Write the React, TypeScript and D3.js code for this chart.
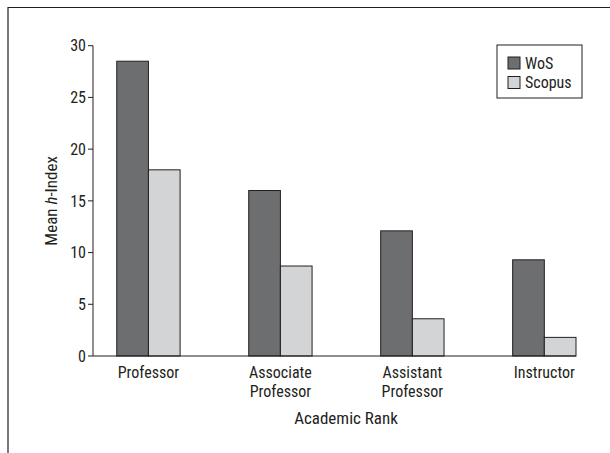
import React from "react";
import * as d3 from "d3";

const categories = ["Professor", "Associate Professor", "Assistant Professor", "Instructor"];
const categoryLines = [["Professor"], ["Associate", "Professor"], ["Assistant", "Professor"], ["Instructor"]];
const seriesNames = ["WoS", "Scopus"];
const wosValues = [28.5, 16.0, 12.1, 9.3];
const scopusValues = [18.0, 8.7, 3.6, 1.8];
const yTicks = [0, 5, 10, 15, 20, 25, 30];

const colors = ["#6d6e70", "#d3d4d6"];
const stroke = "#231f20";
const font = "'Liberation Sans Narrow', 'Roboto Condensed', 'Liberation Sans', Arial, sans-serif";

export default function App() {
  const W = 610, H = 453;
  const x0 = 93, x1 = 576, yTop = 45.7, yBot = 356;
  const x = d3.scaleBand<string>().domain(categories).range([x0, x1]).paddingInner(0.52).paddingOuter(0.09).align(1);
  const inner = d3.scaleBand<string>().domain(seriesNames).range([0, x.bandwidth()]);
  const y = d3.scaleLinear().domain([0, 30]).range([yBot, yTop]);
  const series = [wosValues, scopusValues];

  return (
    <svg width={W} height={H} style={{ position: "absolute", left: 0, top: 0 }} fontFamily={font}>
      <rect x={0} y={0} width={W} height={H} fill="#fff" />
      <path d={`M8,${H + 5} V7.5 H${W + 5}`} fill="none" stroke="#231f20" strokeWidth={1.2} />
      {categories.map((c, i) =>
        seriesNames.map((s, k) => (
          <rect
            key={c + s}
            x={(x(c) ?? 0) + (inner(s) ?? 0)}
            y={y(series[k][i])}
            width={inner.bandwidth()}
            height={yBot - y(series[k][i])}
            fill={colors[k]}
            stroke={stroke}
            strokeWidth={1}
          />
        ))
      )}
      <line x1={x0} x2={x0} y1={yTop} y2={yBot} stroke={stroke} strokeWidth={1} />
      {yTicks.map((t) => (
        <g key={t}>
          <line x1={x0 - 5} x2={x0} y1={y(t)} y2={y(t)} stroke={stroke} strokeWidth={1} />
          <text x={x0 - 7} y={y(t)} dy="0.36em" textAnchor="end" fontSize={16} fill="#231f20">
            {t}
          </text>
        </g>
      ))}
      <line x1={x0} x2={x1} y1={yBot} y2={yBot} stroke={stroke} strokeWidth={1} />
      {categories.map((c, i) => (
        <text key={c} textAnchor="middle" fontSize={16} fill="#231f20">
          {categoryLines[i].map((l, j) => (
            <tspan key={j} x={(x(c) ?? 0) + x.bandwidth() / 2} y={378 + j * 19}>
              {l}
            </tspan>
          ))}
        </text>
      ))}
      <text x={346} y={424} textAnchor="middle" fontSize={17} fill="#231f20">
        Academic Rank
      </text>
      <text transform={`translate(57,${(yTop + yBot) / 2}) rotate(-90)`} textAnchor="middle" fontSize={17} fill="#231f20">
        Mean <tspan fontStyle="italic">h</tspan>-Index
      </text>
      <rect x={497} y={45} width={85} height={53} fill="#fff" stroke={stroke} strokeWidth={1} />
      {seriesNames.map((s, k) => (
        <g key={s}>
          <rect x={508} y={57 + k * 19.5} width={12} height={12} fill={colors[k]} stroke={stroke} strokeWidth={1} />
          <text x={525} y={63 + k * 19.5} dy="0.36em" fontSize={16} fill="#231f20">
            {s}
          </text>
        </g>
      ))}
    </svg>
  );
}
